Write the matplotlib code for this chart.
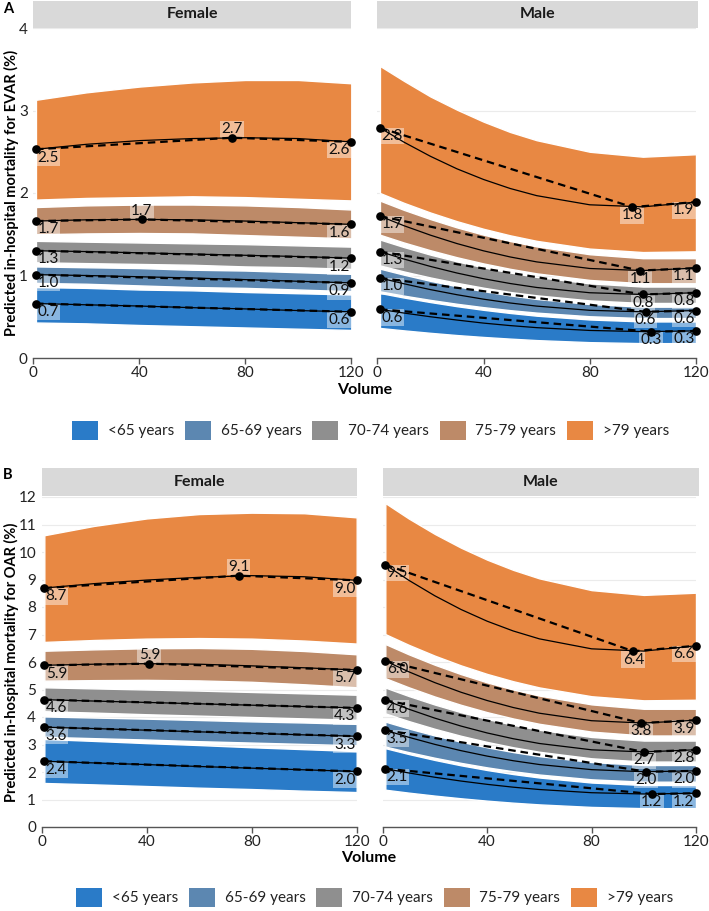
import matplotlib
matplotlib.use("Agg")
import matplotlib.pyplot as plt
from matplotlib.patches import Patch

plt.rcParams['font.family'] = ['Lato', 'DejaVu Sans']

groups = ['<65 years', '65-69 years', '70-74 years', '75-79 years', '>79 years']
colors = ['#2A7BC8', '#5C87B1', '#8F8F8F', '#BD8A68', '#E88843']
volume_female = [1, 20, 40, 60, 80, 100, 120]
volume_male = [1, 10, 20, 30, 40, 50, 60, 80, 100, 120]
x_ticks = [0, 40, 80, 120]

# ---------------- EVAR, Female ----------------
evar_female_fit = [
    [0.66, 0.645, 0.63, 0.61, 0.595, 0.575, 0.56],
    [1.01, 1.00, 0.985, 0.97, 0.95, 0.93, 0.91],
    [1.30, 1.29, 1.275, 1.26, 1.245, 1.23, 1.21],
    [1.66, 1.675, 1.68, 1.675, 1.66, 1.64, 1.62],
    [2.53, 2.59, 2.635, 2.66, 2.67, 2.66, 2.62],
]
evar_female_lo = [
    [0.43, 0.42, 0.40, 0.385, 0.37, 0.355, 0.34],
    [0.91, 0.90, 0.88, 0.86, 0.85, 0.83, 0.81],
    [1.16, 1.15, 1.14, 1.13, 1.11, 1.10, 1.08],
    [1.50, 1.51, 1.515, 1.51, 1.49, 1.47, 1.45],
    [1.92, 1.94, 1.95, 1.96, 1.95, 1.93, 1.91],
]
evar_female_hi = [
    [0.86, 0.85, 0.83, 0.82, 0.80, 0.785, 0.77],
    [1.11, 1.10, 1.09, 1.07, 1.06, 1.04, 1.02],
    [1.42, 1.41, 1.40, 1.39, 1.38, 1.365, 1.35],
    [1.83, 1.85, 1.86, 1.86, 1.85, 1.83, 1.80],
    [3.13, 3.22, 3.29, 3.34, 3.37, 3.37, 3.33],
]
evar_female_pt_x = [[1, 120], [1, 120], [1, 120], [1, 41, 120], [1, 75, 120]]
evar_female_pt_y = [[0.66, 0.56], [1.01, 0.91], [1.30, 1.21], [1.66, 1.68, 1.62], [2.53, 2.67, 2.62]]

# ---------------- EVAR, Male ----------------
evar_male_fit = [
    [0.59, 0.545, 0.50, 0.46, 0.423, 0.393, 0.368, 0.334, 0.32, 0.328],
    [0.97, 0.90, 0.829, 0.767, 0.713, 0.667, 0.629, 0.578, 0.56, 0.575],
    [1.29, 1.20, 1.11, 1.03, 0.961, 0.903, 0.855, 0.791, 0.77, 0.791],
    [1.72, 1.604, 1.489, 1.387, 1.299, 1.225, 1.165, 1.085, 1.06, 1.09],
    [2.79, 2.617, 2.445, 2.293, 2.164, 2.055, 1.968, 1.857, 1.832, 1.89],
]
evar_male_lo = [
    [0.364, 0.335, 0.305, 0.278, 0.255, 0.235, 0.217, 0.192, 0.18, 0.18],
    [0.808, 0.756, 0.704, 0.657, 0.616, 0.58, 0.55, 0.506, 0.484, 0.484],
    [1.122, 1.049, 0.976, 0.911, 0.852, 0.80, 0.76, 0.698, 0.667, 0.667],
    [1.494, 1.40, 1.306, 1.221, 1.146, 1.081, 1.026, 0.946, 0.906, 0.906],
    [2.00, 1.881, 1.763, 1.658, 1.566, 1.487, 1.42, 1.326, 1.284, 1.293],
]
evar_male_hi = [
    [0.788, 0.733, 0.678, 0.628, 0.584, 0.546, 0.513, 0.467, 0.443, 0.443],
    [1.083, 1.01, 0.935, 0.869, 0.81, 0.759, 0.716, 0.654, 0.622, 0.622],
    [1.436, 1.345, 1.253, 1.171, 1.099, 1.036, 0.983, 0.905, 0.866, 0.866],
    [1.908, 1.796, 1.684, 1.583, 1.495, 1.418, 1.353, 1.258, 1.21, 1.21],
    [3.54, 3.36, 3.17, 3.01, 2.865, 2.74, 2.64, 2.50, 2.44, 2.47],
]
evar_male_pt_x = [[1, 103, 120], [1, 101, 120], [1, 100, 120], [1, 99, 120], [1, 96, 120]]
evar_male_pt_y = [[0.59, 0.32, 0.328], [0.97, 0.56, 0.575], [1.29, 0.77, 0.791],
                  [1.72, 1.06, 1.09], [2.79, 1.83, 1.89]]

# ---------------- OAR, Female ----------------
oar_female_fit = [
    [2.39, 2.33, 2.27, 2.20, 2.14, 2.08, 2.02],
    [3.63, 3.58, 3.52, 3.46, 3.41, 3.35, 3.30],
    [4.63, 4.58, 4.53, 4.48, 4.43, 4.38, 4.33],
    [5.88, 5.92, 5.94, 5.92, 5.86, 5.79, 5.71],
    [8.69, 8.85, 8.98, 9.08, 9.14, 9.10, 8.97],
]
oar_female_lo = [
    [1.60, 1.55, 1.49, 1.43, 1.38, 1.32, 1.27],
    [3.28, 3.23, 3.18, 3.12, 3.07, 3.02, 2.97],
    [4.21, 4.16, 4.10, 4.05, 4.00, 3.95, 3.90],
    [5.32, 5.34, 5.35, 5.33, 5.28, 5.19, 5.08],
    [6.73, 6.80, 6.85, 6.87, 6.85, 6.78, 6.67],
]
oar_female_hi = [
    [3.20, 3.13, 3.05, 2.98, 2.90, 2.83, 2.76],
    [4.02, 3.98, 3.94, 3.89, 3.84, 3.80, 3.75],
    [5.08, 5.04, 5.00, 4.96, 4.91, 4.86, 4.81],
    [6.41, 6.46, 6.50, 6.51, 6.48, 6.40, 6.28],
    [10.61, 10.95, 11.22, 11.38, 11.43, 11.41, 11.26],
]
oar_female_pt_x = [[1, 120], [1, 120], [1, 120], [1, 41, 120], [1, 75, 120]]
oar_female_pt_y = [[2.39, 2.02], [3.63, 3.30], [4.63, 4.33], [5.88, 5.94, 5.71], [8.69, 9.14, 8.97]]

# ---------------- OAR, Male ----------------
oar_male_fit = [
    [2.12, 1.965, 1.809, 1.671, 1.551, 1.448, 1.363, 1.247, 1.20, 1.226],
    [3.52, 3.262, 3.004, 2.776, 2.578, 2.41, 2.272, 2.086, 2.01, 2.04],
    [4.61, 4.284, 3.958, 3.67, 3.42, 3.21, 3.037, 2.807, 2.73, 2.807],
    [6.04, 5.644, 5.249, 4.90, 4.599, 4.345, 4.138, 3.865, 3.78, 3.884],
    [9.54, 8.971, 8.406, 7.91, 7.484, 7.128, 6.842, 6.479, 6.396, 6.59],
]
oar_male_lo = [
    [1.356, 1.249, 1.141, 1.044, 0.958, 0.884, 0.822, 0.73, 0.685, 0.685],
    [2.926, 2.722, 2.516, 2.331, 2.168, 2.027, 1.908, 1.734, 1.647, 1.647],
    [4.131, 3.851, 3.569, 3.316, 3.093, 2.899, 2.736, 2.498, 2.379, 2.379],
    [5.412, 5.079, 4.743, 4.442, 4.176, 3.946, 3.752, 3.468, 3.327, 3.327],
    [7.014, 6.623, 6.228, 5.876, 5.566, 5.30, 5.075, 4.755, 4.606, 4.627],
]
oar_male_hi = [
    [2.867, 2.653, 2.437, 2.243, 2.072, 1.925, 1.80, 1.617, 1.526, 1.526],
    [3.833, 3.581, 3.327, 3.099, 2.898, 2.724, 2.577, 2.363, 2.255, 2.255],
    [5.071, 4.763, 4.452, 4.174, 3.929, 3.716, 3.536, 3.274, 3.143, 3.143],
    [6.655, 6.279, 5.899, 5.559, 5.259, 4.999, 4.779, 4.459, 4.299, 4.299],
    [11.78, 11.217, 10.655, 10.157, 9.722, 9.35, 9.041, 8.614, 8.44, 8.52],
]
oar_male_pt_x = [[1, 103, 120], [1, 101, 120], [1, 100, 120], [1, 99, 120], [1, 96, 120]]
oar_male_pt_y = [[2.12, 1.20, 1.226], [3.52, 2.01, 2.04], [4.61, 2.73, 2.807],
                 [6.04, 3.78, 3.884], [9.54, 6.39, 6.59]]

W, H = 709, 911
fig = plt.figure(figsize=(W / 100, H / 100), dpi=100)
fig.patch.set_facecolor('white')

TXT = '#222222'


def px_rect(x0, x1, y_top, y_bot):
    return [x0 / W, 1 - y_bot / H, (x1 - x0) / W, (y_bot - y_top) / H]


def draw_facet(ax, xs, fit, lo, hi, ptx, pty, ymax, show_y):
    for i in range(5):
        ax.fill_between(xs, lo[i], hi[i], facecolor=colors[i], edgecolor='white',
                        linewidth=1.0, zorder=2)
    for i in range(5):
        ax.plot(xs, fit[i], color='black', lw=0.9, zorder=4)
        ax.plot(ptx[i], pty[i], color='black', lw=1.6, ls=(0, (3.4, 2.2)), zorder=5)
        ax.plot(ptx[i], pty[i], 'o', color='black', ms=5.2, zorder=6, clip_on=False)
        n = len(ptx[i])
        for j in range(n):
            v = pty[i][j]
            lab = f"{v:.1f}"
            if j == 0:
                ha, va, off = 'left', 'top', (1.0, -1.0)
            elif j == n - 1:
                ha, va, off = 'right', 'top', (-1.0, -1.0)
            else:
                if v > pty[i][0] and v > pty[i][-1]:
                    ha, va, off = 'center', 'bottom', (0, 1.0)
                else:
                    ha, va, off = 'center', 'top', (0, -1.0)
            ax.annotate(lab, (ptx[i][j], v), xytext=off, textcoords='offset points',
                        ha=ha, va=va, fontsize=11, color='#111111', zorder=3,
                        annotation_clip=False,
                        bbox=dict(boxstyle='square,pad=0.08', facecolor='white',
                                  edgecolor='none', alpha=0.45))
    ax.set_xlim(0, 120)
    ax.set_ylim(0, ymax)
    ax.set_xticks(x_ticks)
    ax.set_yticks(range(0, ymax + 1))
    for s in ['top', 'right', 'left']:
        ax.spines[s].set_visible(False)
    ax.spines['bottom'].set_color('#555555')
    ax.spines['bottom'].set_linewidth(1.0)
    ax.tick_params(axis='x', direction='out', length=4, width=1.0, color='#555555',
                   labelsize=11, labelcolor=TXT, pad=2)
    ax.tick_params(axis='y', length=0, labelsize=11, labelcolor=TXT, pad=4)
    if not show_y:
        ax.set_yticklabels([])
    ax.set_axisbelow(True)
    ax.yaxis.grid(True, color='#EBEBEB', lw=0.8)
    ax.xaxis.grid(False)
    ax.set_facecolor('white')


def strip(rect, label):
    s = fig.add_axes(rect)
    s.set_facecolor('#D9D9D9')
    s.set_xticks([]); s.set_yticks([])
    for sp in s.spines.values():
        sp.set_visible(False)
    s.text(0.5, 0.5, label, ha='center', va='center', fontsize=11.5,
           fontweight='bold', color='#1A1A1A', transform=s.transAxes)


# Panel A
axAF = fig.add_axes(px_rect(33.3, 351.3, 28, 358))
axAM = fig.add_axes(px_rect(377.3, 696.0, 28, 358))
draw_facet(axAF, volume_female, evar_female_fit, evar_female_lo, evar_female_hi,
           evar_female_pt_x, evar_female_pt_y, 4, True)
draw_facet(axAM, volume_male, evar_male_fit, evar_male_lo, evar_male_hi,
           evar_male_pt_x, evar_male_pt_y, 4, False)
strip(px_rect(33.3, 351.3, 0.5, 28), 'Female')
strip(px_rect(377.3, 698.5, 0.5, 28), 'Male')
fig.text(11 / W, 1 - 193 / H, 'Predicted in-hospital mortality for EVAR (%)',
         rotation=90, ha='center', va='center', fontsize=10.5, fontweight='bold',
         color='black')
fig.text(365 / W, 1 - 390 / H, 'Volume', ha='center', va='center', fontsize=11.5,
         fontweight='bold', color='black')
fig.text(3 / W, 1 - 9 / H, 'A', ha='left', va='center', fontsize=10.5,
         fontweight='bold', color='black')

# Panel B
axBF = fig.add_axes(px_rect(41.7, 356.7, 497, 827))
axBM = fig.add_axes(px_rect(382.7, 696.0, 497, 827))
draw_facet(axBF, volume_female, oar_female_fit, oar_female_lo, oar_female_hi,
           oar_female_pt_x, oar_female_pt_y, 12, True)
draw_facet(axBM, volume_male, oar_male_fit, oar_male_lo, oar_male_hi,
           oar_male_pt_x, oar_male_pt_y, 12, False)
strip(px_rect(41.7, 356.7, 468, 496), 'Female')
strip(px_rect(382.7, 698.5, 468, 496), 'Male')
fig.text(11 / W, 1 - 662 / H, 'Predicted in-hospital mortality for OAR (%)',
         rotation=90, ha='center', va='center', fontsize=10.5, fontweight='bold',
         color='black')
fig.text(369 / W, 1 - 858 / H, 'Volume', ha='center', va='center', fontsize=11.5,
         fontweight='bold', color='black')
fig.text(3 / W, 1 - 475 / H, 'B', ha='left', va='center', fontsize=10.5,
         fontweight='bold', color='black')

# Legends
handles = [Patch(facecolor=c, edgecolor='none', label=g) for c, g in zip(colors, groups)]
for cx, cy in [(370.5, 430.5), (374.5, 897.5)]:
    fig.legend(handles=handles, loc='center', bbox_to_anchor=(cx / W, 1 - cy / H),
               ncol=5, frameon=False, fontsize=11, handlelength=1.7, handleheight=1.63,
               handletextpad=0.65, columnspacing=0.7, borderaxespad=0, borderpad=0,
               labelcolor=TXT)

fig.savefig('out.png', dpi=100, facecolor='white')
